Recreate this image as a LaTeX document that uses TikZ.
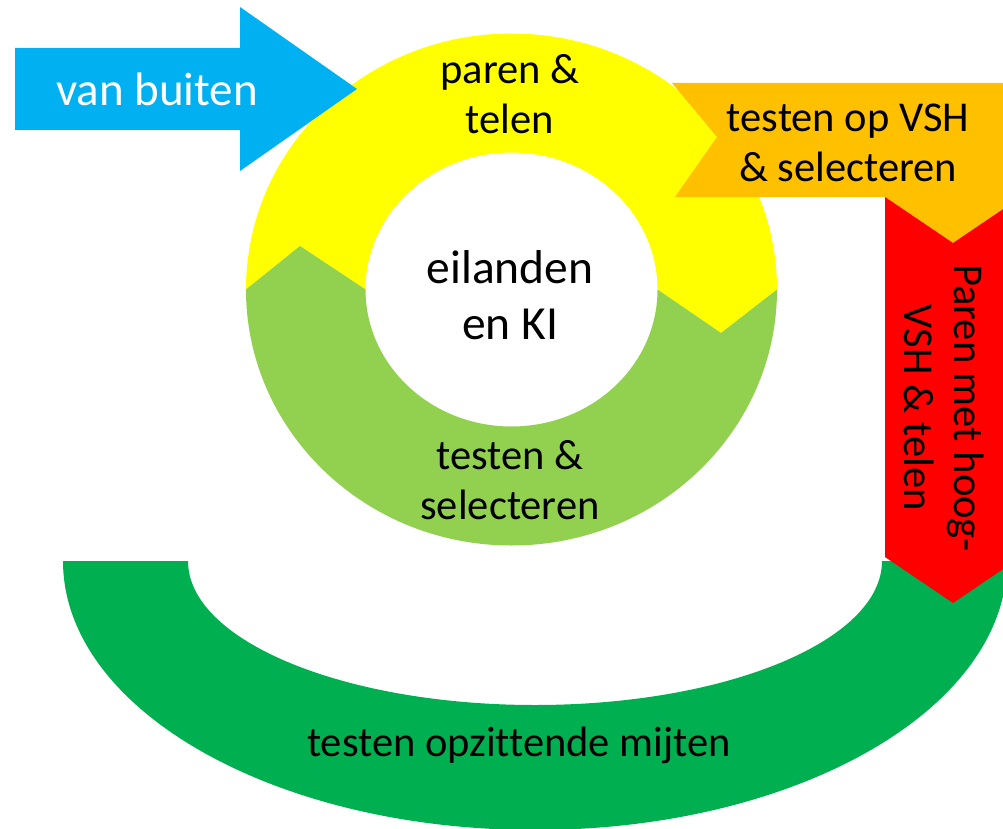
\documentclass[tikz,border=0pt]{standalone}
\usepackage{fontspec}
\setmainfont{Carlito}[Ligatures=NoCommon]
\definecolor{cblue}{HTML}{00B0F0}
\definecolor{cyellow}{HTML}{FFFF00}
\definecolor{clgreen}{HTML}{92D050}
\definecolor{corange}{HTML}{FFC000}
\definecolor{cred}{HTML}{FF0000}
\definecolor{cgreen}{HTML}{00B050}
\tikzset{
  lbl/.style={align=center, inner sep=0pt, font=\fontsize{42.5}{50}\selectfont},
  biglbl/.style={align=center, inner sep=0pt, font=\fontsize{47.5}{56}\selectfont},
  vblbl/.style={align=center, inner sep=0pt, font=\fontsize{47}{56}\selectfont},
}
\begin{document}
\begin{tikzpicture}[x=1pt,y=-1pt]
\clip (0,0) rectangle (1003,829);
\fill[white] (0,0) rectangle (1003,829);
% bottom dark green block arc
\fill[cgreen] (63,561) arc[start angle=180,end angle=0,x radius=472,y radius=269]
  -- (882,561) arc[start angle=0,end angle=180,x radius=347,y radius=144] -- cycle;
% ring: yellow upper half
\fill[cyellow] (246,289.5) arc[start angle=180,end angle=360,x radius=265.5,y radius=256]
  -- (721,333) -- (657.5,289.5) arc[start angle=360,end angle=180,x radius=146,y radius=137]
  -- (300,246) -- cycle;
% ring: light green lower half
\fill[clgreen] (777,289.5) arc[start angle=0,end angle=180,x radius=265.5,y radius=256]
  -- (300,246) -- (365.5,289.5) arc[start angle=180,end angle=0,x radius=146,y radius=137]
  -- (721,333) -- cycle;
% orange bent arrow
\fill[corange] (672,83) -- (1030,83) -- (1030,197) -- (1021,197) -- (953,243) -- (885,197)
  -- (675,197) -- (717,137) -- cycle;
% red chevron
\fill[cred] (885,197) -- (953,243) -- (1021,197) -- (1021,557) -- (953,603) -- (885,557) -- cycle;
% blue arrow
\fill[cblue] (15,48) -- (240,48) -- (240,7) -- (357,89) -- (240,171) -- (240,130) -- (15,130) -- cycle;
% texts
\node[vblbl, text=white] (vb) at (157,89) {van buiten};
\node[lbl] (pt) at (510,94) {paren \&\\telen};
\node[biglbl] (ek) at (510,295) {eilanden\\en KI};
\node[lbl] (ts) at (510,480) {testen \&\\selecteren};
\node[lbl] (tv) at (848,143) {testen op VSH\\\& selecteren};
\node[lbl, rotate=-90] (pm) at (944,408) {Paren met hoog-\\VSH \& telen};
\node[lbl] (to) at (519,745) {testen opzittende mijten};
\end{tikzpicture}
\end{document}
